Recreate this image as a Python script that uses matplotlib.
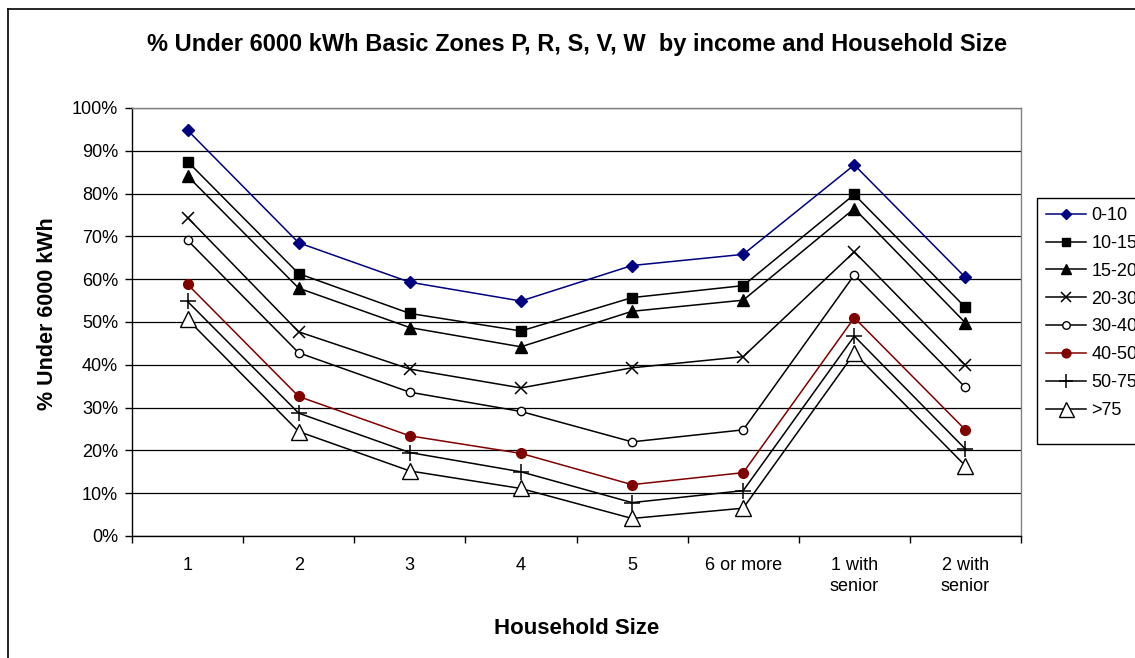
import matplotlib
matplotlib.use("Agg")
import matplotlib.pyplot as plt
from matplotlib.ticker import PercentFormatter, FixedLocator, MultipleLocator
from matplotlib.lines import Line2D
from matplotlib.patches import Rectangle

plt.rcParams['font.family'] = ['Liberation Sans', 'DejaVu Sans']

categories = ["1", "2", "3", "4", "5", "6 or more", "1 with\nsenior", "2 with\nsenior"]
income_groups = ["0-10", "10-15", "15-20", "20-30", "30-40", "40-50", "50-75", ">75"]

pct_0_10 = [94.8, 68.5, 59.3, 54.9, 63.2, 65.8, 86.7, 60.4]
pct_10_15 = [87.5, 61.3, 52.0, 47.9, 55.7, 58.5, 79.8, 53.4]
pct_15_20 = [84.1, 57.9, 48.7, 44.2, 52.5, 55.1, 76.5, 49.8]
pct_20_30 = [74.4, 47.7, 39.0, 34.6, 39.3, 41.9, 66.4, 39.9]
pct_30_40 = [69.1, 42.8, 33.6, 29.1, 22.0, 24.8, 61.0, 34.7]
pct_40_50 = [58.8, 32.6, 23.4, 19.3, 12.0, 14.8, 51.0, 24.8]
pct_50_75 = [54.8, 28.7, 19.5, 15.0, 7.8, 10.6, 46.7, 20.3]
pct_over_75 = [50.6, 24.4, 15.2, 11.1, 4.1, 6.5, 42.7, 16.4]

series = [pct_0_10, pct_10_15, pct_15_20, pct_20_30,
          pct_30_40, pct_40_50, pct_50_75, pct_over_75]

NAVY = "#000080"
MAROON = "#800000"
styles = [
    dict(color=NAVY, marker="D", ms=6, mfc=NAVY, mec=NAVY),
    dict(color="black", marker="s", ms=7, mfc="black", mec="black"),
    dict(color="black", marker="^", ms=8, mfc="black", mec="black"),
    dict(color="black", marker="x", ms=8, mew=1.1, mfc="black", mec="black"),
    dict(color="black", marker="o", ms=6, mfc="white", mec="black", mew=1.0),
    dict(color=MAROON, marker="o", ms=7, mfc=MAROON, mec=MAROON),
    dict(color="black", marker="+", ms=11, mew=1.1, mfc="black", mec="black"),
    dict(color="black", marker="^", ms=12, mfc="white", mec="black", mew=1.0),
]

W, H = 1135, 658
fig = plt.figure(figsize=(W / 100, H / 100), dpi=100)
ax = fig.add_axes([132 / W, 1 - 536 / H, (1021 - 132) / W, (536 - 108) / H])

x = list(range(1, len(categories) + 1))
handles = []
for vals, label, st in zip(series, income_groups, styles):
    h, = ax.plot(x, vals, lw=1.1, label=label, zorder=3, **st)
    handles.append(h)

ax.set_xlim(0.5, len(categories) + 0.5)
ax.set_ylim(0, 100)
ax.yaxis.set_major_locator(MultipleLocator(10))
ax.yaxis.set_major_formatter(PercentFormatter(100, decimals=0))
ax.grid(axis="y", color="black", lw=0.9, zorder=0)
ax.set_axisbelow(True)

ax.set_xticks(x)
ax.set_xticklabels(categories, fontsize=13, linespacing=1.35)
ax.xaxis.set_minor_locator(FixedLocator([i + 0.5 for i in range(0, len(categories) + 1)]))
ax.tick_params(axis="x", which="major", length=0, pad=15)
ax.tick_params(axis="x", which="minor", length=5, width=1, direction="out")
ax.tick_params(axis="y", length=5, width=1, direction="out", labelsize=13, pad=5)

for side in ("top", "right"):
    ax.spines[side].set_color("#808080")
    ax.spines[side].set_linewidth(1)
for side in ("left", "bottom"):
    ax.spines[side].set_color("black")
    ax.spines[side].set_linewidth(1)

ax.set_xlabel("Household Size", fontsize=16, fontweight="bold", va="center")
ax.xaxis.set_label_coords(0.5, -(629 - 536) / 428)
ax.set_ylabel("% Under 6000 kWh", fontsize=15.5, fontweight="bold", va="center")
ax.yaxis.set_label_coords(-(132 - 48) / 889, (536 - 314) / 428)

fig.text(577 / W, 1 - 44 / H,
         "% Under 6000 kWh Basic Zones P, R, S, V, W  by income and Household Size",
         ha="center", va="center", fontsize=17, fontweight="bold")

# legend entries, with its box drawn as a separate rectangle
leg = fig.legend(handles=handles, loc="upper left",
                 bbox_to_anchor=(1037 / W, 1 - 198 / H),
                 bbox_transform=fig.transFigure, borderaxespad=0,
                 fontsize=13, frameon=False,
                 handlelength=2.2, handletextpad=0.3, labelspacing=0.6,
                 borderpad=0.5, markerscale=0.9)
fig.add_artist(Rectangle((1037 / W, 1 - 444 / H), 120 / W, (444 - 198) / H,
                         transform=fig.transFigure, fill=False,
                         edgecolor="black", lw=1))

# chart-area border along the left and top edges
fig.add_artist(Line2D([8 / W, 8 / W], [0, 1 - 9 / H],
                      transform=fig.transFigure, color="black", lw=1.2))
fig.add_artist(Line2D([8 / W, 1], [1 - 9 / H, 1 - 9 / H],
                      transform=fig.transFigure, color="black", lw=1.2))

fig.savefig("out.png", dpi=100)
